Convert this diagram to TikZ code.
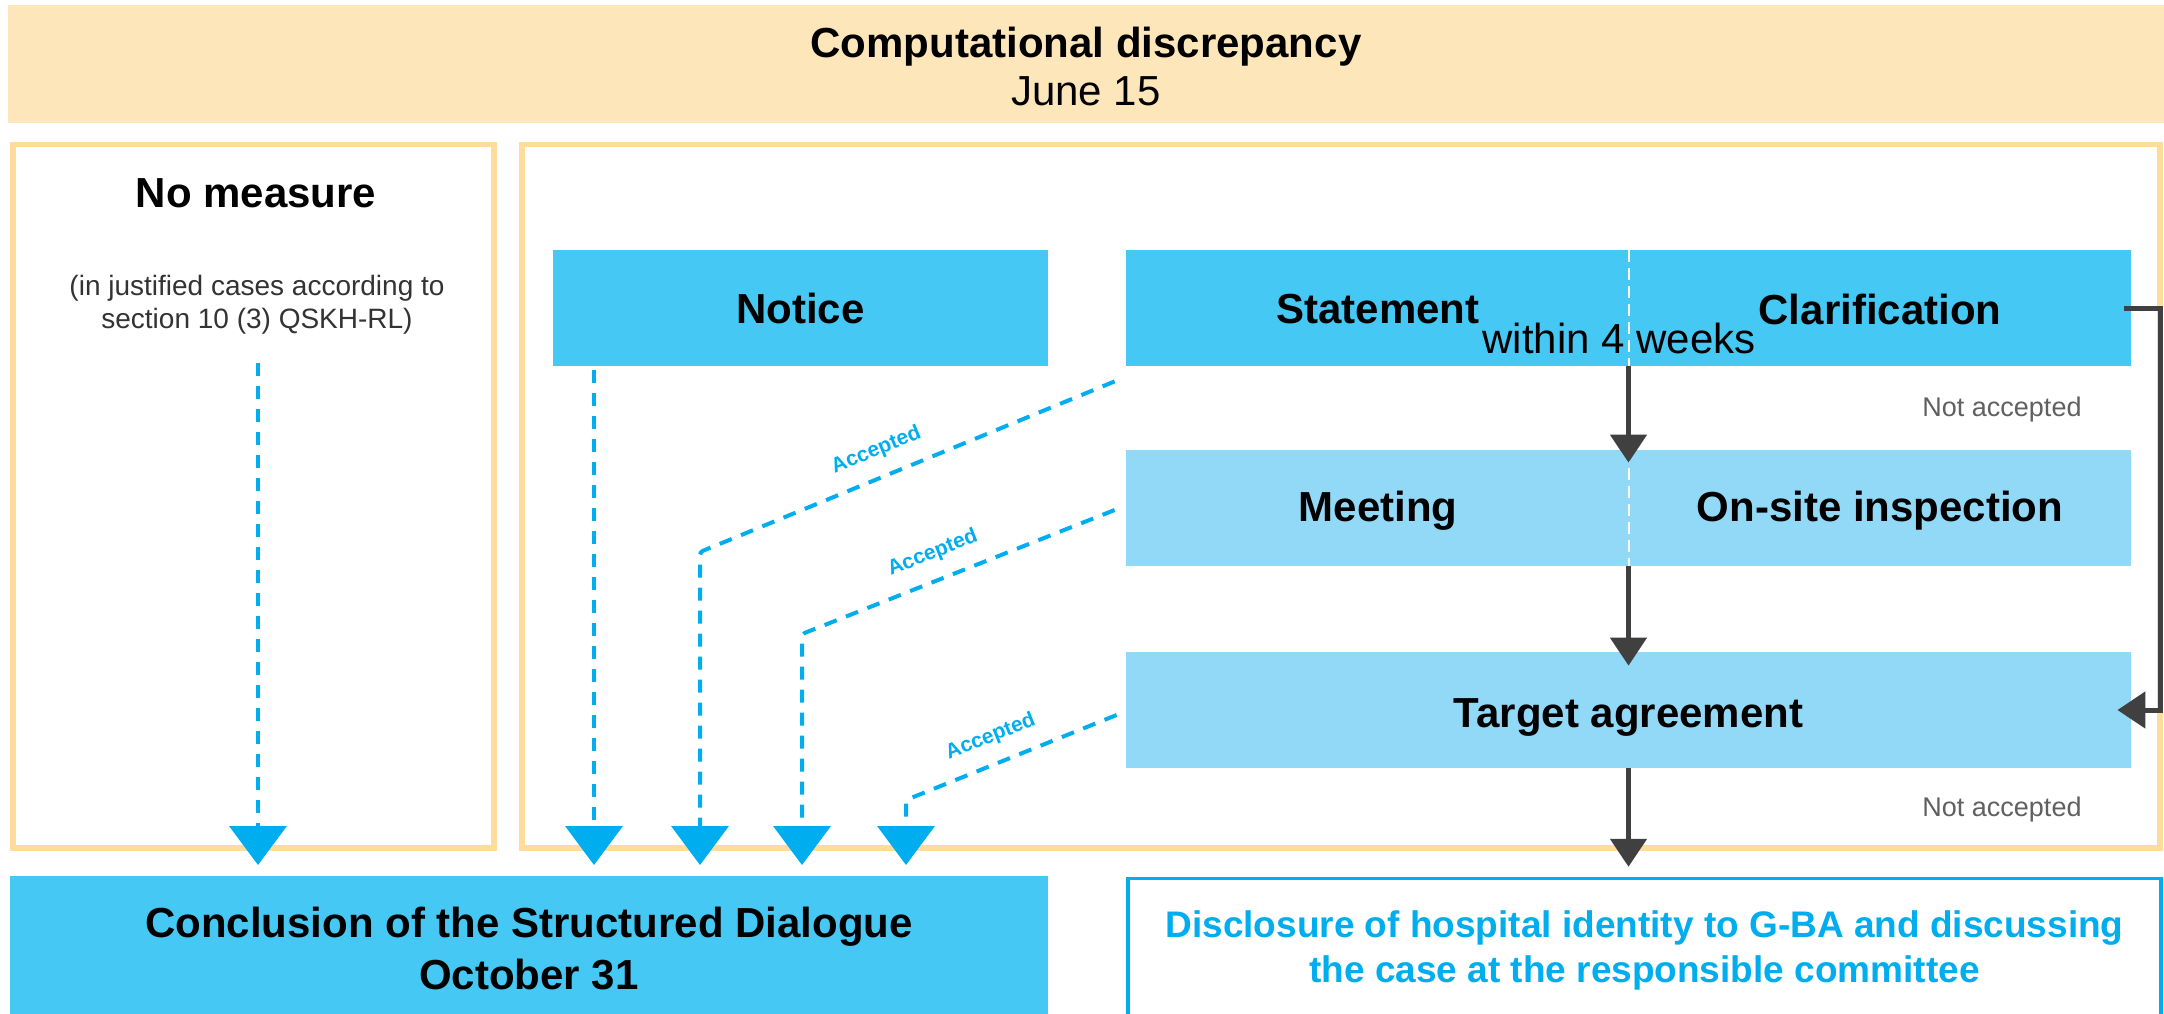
\documentclass[tikz,border=0pt]{standalone}
\usepackage{fontspec}
\setmainfont{Liberation Sans}
\usetikzlibrary{arrows.meta}
\definecolor{bandFill}{HTML}{FDE6BA}
\definecolor{frameLine}{HTML}{FFDC9B}
\definecolor{stepBlue}{HTML}{45C8F3}
\definecolor{paleBlue}{HTML}{91D9F6}
\definecolor{accBlue}{HTML}{00AEEF}
\definecolor{darkArrow}{HTML}{404040}
\definecolor{noteGray}{HTML}{606060}
\newcommand{\boxfont}{\fontsize{21}{26}\selectfont\bfseries}
\newcommand{\plainfont}{\fontsize{21}{26}\selectfont}
\newcommand{\smallnote}{\fontsize{14}{16.5}\selectfont}
\newcommand{\accfont}{\fontsize{10.5}{12}\selectfont\bfseries}
\tikzset{
  band/.style={fill=bandFill, inner sep=0pt, minimum width=1078pt, minimum height=59pt},
  frame/.style={draw=frameLine, line width=2.75pt, fill=white, inner sep=0pt},
  stepbox/.style={fill=stepBlue, inner sep=0pt, minimum height=58pt, font=\boxfont},
  palebox/.style={fill=paleBlue, inner sep=0pt, minimum height=58pt, font=\boxfont},
  divider/.style={draw=white, line width=1pt, dash pattern=on 6pt off 3pt},
  accline/.style={draw=accBlue, line width=2pt, dash pattern=on 6.5pt off 5pt,
    rounded corners=1.5pt, -{Triangle[width=28.5pt, length=19.5pt]}},
  acclabel/.style={sloped, above=7.5pt, inner sep=0pt, font=\accfont, text=accBlue},
  flow/.style={draw=darkArrow, line width=2.5pt, -{Triangle[width=18pt, length=14pt]}},
  notacc/.style={font=\fontsize{13.5}{16}\selectfont, text=noteGray}
}
\begin{document}
\begin{tikzpicture}[x=0.5pt,y=-0.5pt]
  \useasboundingbox (0,0) rectangle (2164,1013);
  % top band
  \node[band] (banner) at (1086,64) {};
  \node[anchor=base, font=\boxfont] (title) at (1086,57) {Computational discrepancy};
  \node[anchor=base, font=\plainfont] (date) at (1086,105) {June 15};
  % two frames
  \node[frame, minimum width=240.5pt, minimum height=351.75pt] (leftframe) at (253.5,496.25) {};
  \node[frame, minimum width=819pt, minimum height=351.75pt] (rightframe) at (1341,496.25) {};
  \node[font=\boxfont] (nomeasure) at (256,193.5) {No measure};
  \node[font=\smallnote, text=black!80, align=center, inner sep=0pt] (subnote) at (257,304.5)
    {(in justified cases according to\\section 10 (3) QSKH-RL)};
  % steps
  \node[stepbox, minimum width=247.5pt] (notice) at (800.5,308) {Notice};
  \node[stepbox, minimum width=502.5pt] (stmt) at (1628.5,308) {};
  \node[palebox, minimum width=502.5pt] (meet) at (1628.5,508) {};
  \node[palebox, minimum width=502.5pt] (target) at (1628.5,710) {};
  \draw[divider] (stmt.north) -- (stmt.south);
  \draw[divider] (meet.north) -- (meet.south);
  \node[font=\boxfont] (stmtlabel) at (1378,309) {Statement};
  \node[font=\boxfont] (clarlabel) at (1880,309) {Clarification};
  \node[font=\plainfont] (weeks) at (1619,338) {within 4 weeks};
  \node[font=\boxfont] (meetlabel) at (1378,511) {Meeting};
  \node[font=\boxfont] (sitelabel) at (1880,511) {On-site inspection};
  \node[font=\boxfont] (targetlabel) at (1628.5,717) {Target agreement};
  % results
  \node[fill=stepBlue, inner sep=0pt, minimum width=519pt, minimum height=73pt,
    font=\boxfont, align=center] (conc) at (529,949)
    {Conclusion of the Structured Dialogue\\[0pt]October 31};
  \node[draw=accBlue, line width=1.75pt, fill=white, inner sep=0pt, minimum width=516.5pt,
    minimum height=71.5pt, font=\fontsize{18.5}{22.5}\selectfont\bfseries, text=accBlue,
    align=center] (disc) at (1644.5,950)
    {Disclosure of hospital identity to G-BA and discussing\\the case at the responsible committee};
  % accepted paths
  \coordinate (tip1) at (258,865);
  \coordinate (tip2) at (594,865);
  \coordinate (tip3) at (700,865);
  \coordinate (tip4) at (802,865);
  \coordinate (tip5) at (906,865);
  \coordinate (nmstart) at (258,363);
  \coordinate (bendA) at (700,552);
  \coordinate (bendB) at (802,634);
  \coordinate (bendC) at (906,800);
  \draw[accline] (nmstart) -- (tip1);
  \draw[accline, shorten <=2pt] (tip2 |- notice.south) -- (tip2);
  \draw[accline] ([shift={(-11,15)}]stmt.south west) -- node[acclabel, pos=0.55] {Accepted} (bendA) -- (tip3);
  \draw[accline] ([shift={(-11,2)}]meet.west) -- node[acclabel, pos=0.55] {Accepted} (bendB) -- (tip4);
  \draw[accline] ([shift={(-9,5)}]target.west) -- node[acclabel, pos=0.55] {Accepted} (bendC) -- (tip5);
  % not accepted paths
  \draw[flow] (stmt.south) -- ([shift={(0,13)}]meet.north);
  \draw[flow] (meet.south) -- ([shift={(0,14)}]target.north);
  \draw[flow] (target.south) -- ([shift={(0,-10)}]disc.north -| target.south);
  \draw[flow] ([shift={(-7,0)}]stmt.east) -- ++(36,0) |- ([shift={(-14,0)}]target.east);
  \node[notacc] (na1) at (2002,410) {Not accepted};
  \node[notacc] (na2) at (2002,810) {Not accepted};
\end{tikzpicture}
\end{document}
